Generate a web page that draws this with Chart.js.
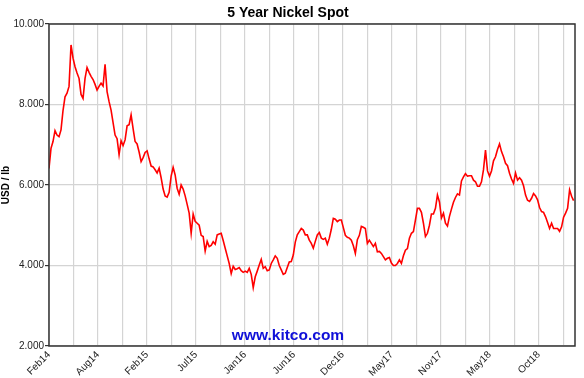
<!DOCTYPE html>
<html>
<head>
<meta charset="utf-8">
<title>5 Year Nickel Spot</title>
<script src="https://cdn.jsdelivr.net/npm/chart.js@4.4.0/dist/chart.umd.min.js"></script>
<style>
body { margin: 0; background: #fff; }
</style>
</head>
<body>
<canvas id="chart" width="584" height="378"></canvas>
<script>
// nickel spot in USD/lb, evenly spaced from Feb14 to early 2019
const prices = [
    6.41, 6.91, 7.08, 7.35, 7.24, 7.20, 7.37, 7.85, 8.19, 8.28,
    8.45, 9.48, 9.15, 8.94, 8.78, 8.65, 8.25, 8.15, 8.65, 8.92,
    8.80, 8.70, 8.62, 8.50, 8.36, 8.45, 8.53, 8.46, 9.00, 8.32,
    8.07, 7.86, 7.55, 7.24, 7.15, 6.75, 7.10, 6.98, 7.12, 7.47,
    7.50, 7.74, 7.40, 7.08, 7.02, 6.82, 6.58, 6.68, 6.81, 6.85,
    6.65, 6.47, 6.45, 6.38, 6.30, 6.42, 6.18, 5.90, 5.73, 5.70,
    5.82, 6.22, 6.44, 6.25, 5.92, 5.77, 6.00, 5.90, 5.73, 5.52,
    5.30, 4.80, 5.28, 5.10, 5.05, 5.00, 4.75, 4.72, 4.36, 4.60,
    4.47, 4.50, 4.59, 4.53, 4.76, 4.78, 4.80, 4.62, 4.43, 4.24,
    4.05, 3.80, 3.98, 3.90, 3.92, 3.95, 3.87, 3.83, 3.86, 3.83,
    3.93, 3.78, 3.45, 3.72, 3.86, 4.01, 4.15, 3.93, 3.97, 3.87,
    3.89, 4.05, 4.14, 4.24, 4.18, 4.00, 3.89, 3.78, 3.81, 3.95,
    4.09, 4.10, 4.26, 4.58, 4.76, 4.84, 4.92, 4.88, 4.76, 4.76,
    4.63, 4.55, 4.43, 4.60, 4.76, 4.82, 4.68, 4.65, 4.68, 4.53,
    4.68, 4.90, 5.17, 5.15, 5.09, 5.13, 5.13, 4.94, 4.75, 4.70,
    4.68, 4.63, 4.49, 4.30, 4.64, 4.75, 4.97, 4.95, 4.92, 4.55,
    4.63, 4.55, 4.47, 4.55, 4.34, 4.35, 4.30, 4.22, 4.14, 4.18,
    4.20, 4.06, 4.00, 4.00, 4.05, 4.14, 4.05, 4.24, 4.38, 4.42,
    4.68, 4.80, 4.84, 5.13, 5.42, 5.42, 5.32, 5.05, 4.72, 4.80,
    5.00, 5.28, 5.28, 5.42, 5.75, 5.58, 5.18, 5.30, 5.05, 4.98,
    5.22, 5.40, 5.57, 5.69, 5.78, 5.75, 6.10, 6.20, 6.28, 6.22,
    6.23, 6.23, 6.12, 6.08, 5.97, 5.97, 6.08, 6.38, 6.87, 6.35,
    6.22, 6.35, 6.60, 6.70, 6.88, 7.02, 6.83, 6.70, 6.54, 6.48,
    6.29, 6.15, 6.04, 6.30, 6.12, 6.18, 6.12, 5.98, 5.75, 5.62,
    5.59, 5.67, 5.79, 5.73, 5.63, 5.44, 5.34, 5.32, 5.21, 5.07,
    4.92, 5.05, 4.92, 4.92, 4.92, 4.85, 4.96, 5.20, 5.30, 5.42,
    5.88, 5.72, 5.61
];

// labels sit under every second vertical grid line
const tickLabels = ['Feb14', 'Aug14', 'Feb15', 'Jul15', 'Jan16', 'Jun16', 'Dec16', 'May17', 'Nov17', 'May18', 'Oct18'];
const yTicks = [2, 4, 6, 8, 10];

// readings between two grid lines, and how many grid steps the plot spans
const samplesPerGrid = 12.23;
const gridSpan = 21.48;

let points = prices.map((p, i) => ({ x: i / samplesPerGrid, y: p }));
let gridLines = [];
for (let j = 0; j <= tickLabels.length * 2 - 1; j++) {
    gridLines.push(j);
}

// title, watermark and the box round the plot
const decorations = {
    id: 'decorations',
    afterDraw(chart) {
        const ctx = chart.ctx;
        const area = chart.chartArea;
        ctx.save();
        ctx.strokeStyle = '#333';
        ctx.lineWidth = 1.5;
        ctx.strokeRect(area.left, area.top, area.right - area.left, area.bottom - area.top);

        ctx.fillStyle = '#000';
        ctx.font = 'bold 14px "Liberation Sans", Arial, sans-serif';
        ctx.textAlign = 'center';
        ctx.textBaseline = 'alphabetic';
        ctx.fillText('5 Year Nickel Spot', 288, 17);

        ctx.fillStyle = '#1010d8';
        ctx.font = 'bold 15.5px "Liberation Sans", Arial, sans-serif';
        ctx.fillText('www.kitco.com', 288, 340);
        ctx.restore();
    }
};

const ctx = document.getElementById('chart').getContext('2d');
const myChart = new Chart(ctx, {
    type: 'line',
    data: {
        datasets: [{
            data: points,
            borderColor: '#ff0000',
            borderWidth: 1.6,
            pointRadius: 0,
            tension: 0,
            fill: false
        }]
    },
    options: {
        responsive: false,
        animation: false,
        devicePixelRatio: 1,
        layout: { padding: { top: 24, right: 9, bottom: 0, left: 0 } },
        plugins: {
            legend: { display: false },
            tooltip: { enabled: false }
        },
        scales: {
            x: {
                type: 'linear',
                min: 0,
                max: gridSpan,
                afterBuildTicks: scale => { scale.ticks = gridLines.map(v => ({ value: v })); },
                afterFit: scale => { scale.height = 32; },
                grid: { color: '#d4d4d4', lineWidth: 1.2, drawTicks: false },
                border: { display: false },
                ticks: {
                    autoSkip: false,
                    minRotation: 45,
                    maxRotation: 45,
                    padding: 3,
                    color: '#222',
                    font: { family: '"Liberation Sans", Arial, sans-serif', size: 10 },
                    callback: (v) => (v % 2 === 0 ? tickLabels[v / 2] : '')
                }
            },
            y: {
                min: 2,
                max: 10,
                afterBuildTicks: scale => { scale.ticks = yTicks.map(v => ({ value: v })); },
                afterFit: scale => { scale.width = 49; },
                grid: { color: '#d4d4d4', lineWidth: 1.2, tickLength: 4, tickColor: '#333' },
                border: { display: false },
                title: {
                    display: true,
                    text: 'USD / lb',
                    color: '#000',
                    padding: 0,
                    font: { family: '"Liberation Sans", Arial, sans-serif', size: 10, weight: 'bold' }
                },
                ticks: {
                    padding: 1,
                    color: '#222',
                    font: { family: '"Liberation Sans", Arial, sans-serif', size: 10 },
                    callback: (v) => v.toFixed(3)
                }
            }
        }
    },
    plugins: [decorations]
});
</script>
</body>
</html>
